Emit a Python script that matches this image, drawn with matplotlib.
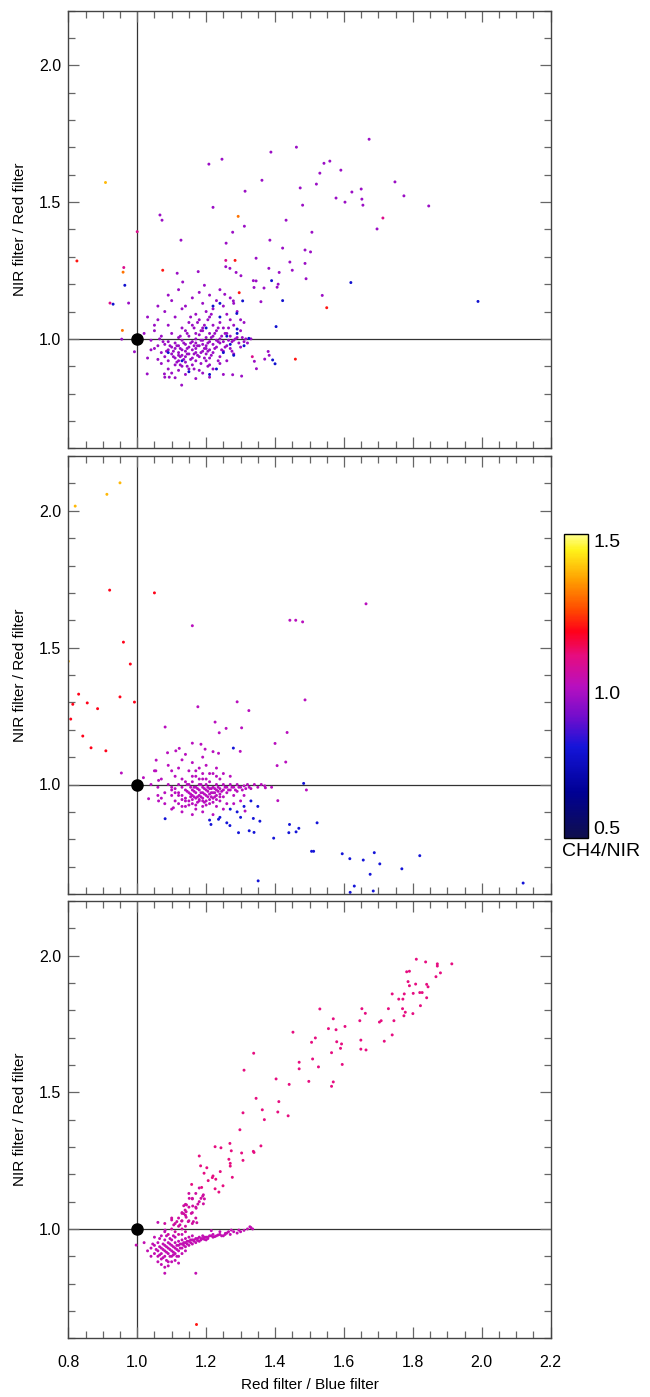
import numpy as np
import matplotlib
matplotlib.use("Agg")
import matplotlib.pyplot as plt
from matplotlib.colors import LinearSegmentedColormap, Normalize
from matplotlib.cm import ScalarMappable
from matplotlib.ticker import MultipleLocator

plt.rcParams['font.family'] = ['Liberation Sans', 'DejaVu Sans']

# ---------------- data ----------------
x_ticks = [0.8, 1.0, 1.2, 1.4, 1.6, 1.8, 2.0, 2.2]
y_ticks = [1.0, 1.5, 2.0]
cbar_ticks = [0.5, 1.0, 1.5]
x_label = "Red filter / Blue filter"
y_label = "NIR filter / Red filter"
cbar_label = "CH4/NIR"
ref_point = (1.0, 1.0)

# Panel 1 ------------------------------------------------------------
p1_purple = [
    (1.10,1.14),(1.16,1.15),(1.19,1.13),(1.23,1.14),(1.25,1.12),(1.28,1.13),
    (1.08,1.10),(1.13,1.11),(1.17,1.09),(1.20,1.10),(1.22,1.11),(1.26,1.09),(1.29,1.10),
    (1.06,1.07),(1.11,1.08),(1.15,1.06),(1.18,1.07),(1.21,1.08),(1.24,1.06),(1.27,1.07),(1.31,1.06),
    (1.09,1.05),(1.13,1.04),(1.16,1.05),(1.19,1.04),(1.22,1.05),(1.25,1.04),(1.28,1.05),
    (1.05,1.03),(1.10,1.02),(1.14,1.03),(1.17,1.02),(1.19,1.03),(1.21,1.02),(1.23,1.03),(1.26,1.02),(1.30,1.03),
    (1.07,1.01),(1.12,1.005),(1.15,1.01),(1.17,1.00),(1.18,1.015),(1.20,1.005),(1.22,1.01),(1.24,1.00),
    (1.27,1.01),(1.29,1.005),(1.33,1.00),
    (1.04,0.995),(1.09,0.99),(1.13,0.995),(1.16,0.99),(1.19,0.995),(1.21,0.99),(1.23,0.995),(1.25,0.99),
    (1.28,0.995),(1.31,0.99),
    (1.08,0.98),(1.11,0.985),(1.14,0.98),(1.17,0.985),(1.19,0.98),(1.20,0.975),(1.22,0.98),(1.24,0.985),(1.26,0.975),
    (1.06,0.975),(1.10,0.97),(1.12,0.975),(1.15,0.97),(1.17,0.965),(1.18,0.975),(1.20,0.965),(1.23,0.97),
    (1.27,0.965),(1.30,0.97),
    (1.05,0.965),(1.09,0.96),(1.11,0.965),(1.13,0.96),(1.14,0.955),(1.16,0.96),(1.19,0.955),(1.21,0.96),(1.25,0.955),
    (1.07,0.95),(1.10,0.945),(1.12,0.95),(1.13,0.94),(1.15,0.945),(1.17,0.95),(1.20,0.945),(1.22,0.95),(1.28,0.945),
    (1.08,0.935),(1.11,0.93),(1.12,0.94),(1.14,0.935),(1.16,0.93),(1.18,0.935),(1.21,0.93),(1.24,0.935),
    (1.06,0.925),(1.09,0.92),(1.12,0.92),(1.14,0.915),(1.17,0.92),(1.20,0.92),(1.26,0.92),
    (1.07,0.91),(1.11,0.905),(1.13,0.90),(1.16,0.905),(1.21,0.905),(1.24,0.91),
    (1.09,0.89),(1.12,0.885),(1.15,0.89),(1.18,0.885),(1.22,0.89),
    (1.10,0.875),(1.14,0.87),(1.19,0.875),(1.25,0.87),(1.08,0.86),(1.17,0.855),(1.21,0.86),
    (1.03,0.93),(1.04,0.96),(1.02,1.02),(1.05,1.05),(1.03,1.08),(1.06,1.12),(1.09,1.16),(1.12,1.18),
    (1.14,1.12),(1.18,1.17),(1.21,1.16),(1.24,1.18),
    (1.105,0.955),(1.115,0.975),(1.125,0.965),(1.135,0.985),(1.145,0.965),(1.155,0.985),(1.165,0.945),
    (1.175,0.975),(1.185,0.995),(1.195,0.965),(1.205,0.985),(1.215,1.005),(1.225,0.965),(1.235,0.99),
    (1.245,1.01),(1.255,0.97),(1.265,0.995),(1.105,0.935),(1.115,0.915),(1.125,0.935),(1.135,0.925),
    (1.145,0.945),(1.155,0.925),(1.165,0.975),(1.175,0.94),(1.185,0.95),(1.195,0.93),(1.205,0.955),
    (1.215,0.94),(1.225,1.02),(1.235,1.04),(1.185,1.03),(1.165,1.04),(1.145,1.02),(1.125,1.01),(1.195,1.05),
    (1.175,1.06),(1.155,1.08),(1.205,1.07),(1.215,1.09),(1.095,0.975),(1.085,0.955),(1.075,0.99),(1.065,1.0),
    (1.125,0.905),(1.145,0.9),(1.165,0.89),(1.185,0.91),(1.205,0.9),(1.235,0.92),(1.245,0.96),(1.255,1.02),
    (1.265,1.04),(1.275,0.99),(1.285,1.0),(1.295,0.985),(1.305,1.005),(1.315,1.0),(1.32,0.985),(1.275,0.955),
    (1.116,1.240),(1.177,1.246),(1.132,1.208),(1.195,1.196),(1.257,1.264),(1.287,1.243),(1.301,1.231),
    (1.254,1.163),(1.27,1.15),(1.279,1.139),(1.30,1.07),(1.337,1.213),(1.345,1.212),(1.339,1.188),
    (1.368,1.186),(1.409,1.200),(1.406,1.189),(1.382,1.258),(1.412,1.243),(1.450,1.251),(1.487,1.276),
    (1.49,1.22),(1.503,1.318),(1.359,1.136),(1.537,1.159),(1.383,0.94),(1.370,0.926),(1.340,0.918),
    (1.346,0.891),(1.380,0.954),(1.303,0.864),(1.277,0.869),(1.129,0.831),(1.110,0.858),(1.093,0.860),
    (1.079,0.872),(1.029,0.872),(0.975,1.131),(0.955,0.999),(0.992,0.953),
    (1.066,1.453),(1.072,1.434),(1.127,1.361),(1.208,1.639),(1.246,1.657),(1.220,1.481),(1.313,1.540),
    (1.362,1.580),(1.388,1.683),(1.462,1.701),(1.520,1.566),(1.530,1.606),(1.542,1.642),(1.591,1.617),
    (1.577,1.515),(1.603,1.500),(1.623,1.537),(1.650,1.548),(1.652,1.511),(1.655,1.489),(1.673,1.730),
    (1.559,1.650),(1.696,1.402),(1.748,1.574),(1.774,1.523),(1.846,1.486),(1.473,1.552),(1.432,1.434),
    (1.480,1.489),(1.258,1.350),(1.345,1.295),(1.385,1.361),(1.422,1.332),(1.311,1.412),(1.277,1.390),
    (1.443,1.281),(1.487,1.325),(1.507,1.390),(1.269,1.258),
]
p1_purple_c = 0.96
p1_blue = [
    (1.13,0.92),(1.21,0.87),(1.23,0.89),(1.25,0.95),(1.27,0.98),(1.20,1.04),(1.24,1.08),(1.26,1.01),
    (1.29,1.02),(1.28,0.94),(1.15,0.88),(1.09,0.95),(1.31,0.975),(1.22,1.12),
    (0.964,1.196),(0.930,1.127),(1.306,1.139),(1.240,1.130),(1.289,1.093),(1.290,1.036),(1.324,1.002),
    (1.390,1.213),(1.422,1.140),(1.403,1.045),(1.620,1.206),(1.393,0.923),(1.400,0.909),(1.989,1.137),
]
p1_blue_c = 0.78
p1_magenta = [(0.961,1.261),(1.0,1.392),(1.257,1.287),(1.334,0.935),(1.713,1.442),(0.921,1.131)]
p1_magenta_c = 1.08
p1_red = [(0.825,1.285),(1.074,1.251),(1.284,1.287),(1.296,1.169),(1.550,1.114),(1.459,0.926)]
p1_red_c = 1.2
p1_orange = [(0.959,1.244),(0.957,1.031),(1.293,1.448)]
p1_orange_c = 1.3
p1_yellow = [(0.906,1.574)]
p1_yellow_c = 1.38

# Panel 2 ------------------------------------------------------------
p2_purple = [
    (1.05,1.05),(1.07,1.02),(1.06,0.99),(1.08,0.97),(1.07,0.95),(1.09,1.00),(1.10,0.98),(1.10,0.96),(1.11,1.03),
    (1.11,0.94),(1.12,1.06),(1.12,1.00),(1.12,0.97),(1.12,0.93),(1.13,0.99),(1.13,0.96),(1.13,1.02),(1.14,0.98),
    (1.14,0.95),(1.14,0.92),(1.15,1.05),(1.15,1.00),(1.15,0.97),(1.15,0.94),(1.16,1.01),(1.16,0.98),(1.16,0.96),
    (1.16,0.93),(1.17,1.03),(1.17,0.99),(1.17,0.97),(1.17,0.95),(1.17,0.91),(1.18,1.00),(1.18,0.98),(1.18,0.96),
    (1.18,0.94),(1.19,1.02),(1.19,0.99),(1.19,0.97),(1.19,0.95),(1.19,0.92),(1.20,1.00),(1.20,0.98),(1.20,0.96),
    (1.20,0.94),(1.21,1.01),(1.21,0.985),(1.21,0.965),(1.21,0.93),(1.22,1.04),(1.22,0.99),(1.22,0.97),(1.22,0.95),
    (1.23,1.00),(1.23,0.98),(1.23,0.96),(1.23,0.92),(1.24,1.02),(1.24,0.985),(1.24,0.965),(1.24,0.94),(1.25,1.00),
    (1.25,0.98),(1.25,0.955),(1.26,0.99),(1.26,0.97),(1.26,0.93),(1.27,1.00),(1.27,0.98),(1.28,0.99),(1.28,0.96),
    (1.29,1.00),(1.29,0.975),(1.30,0.99),(1.31,0.995),(1.31,0.96),(1.32,1.00),(1.33,0.985),(1.34,1.00),(1.35,0.99),
    (1.36,1.00),(1.37,0.995),(1.39,0.99),(1.09,1.07),(1.13,1.09),(1.16,1.08),(1.18,1.06),(1.20,1.07),(1.23,1.06),
    (1.25,1.04),(1.27,1.03),(1.14,1.11),(1.19,1.10),(1.22,1.12),(1.10,1.05),(1.08,0.93),(1.10,0.91),(1.13,0.90),
    (1.16,0.89),(1.19,0.90),(1.22,0.89),(1.25,0.91),(1.28,0.93),(1.30,0.94),(1.06,0.96),(1.04,1.00),(1.11,0.985),
    (1.145,1.0),(1.165,0.975),(1.185,0.955),(1.205,0.975),(1.225,0.985),(1.155,0.955),(1.175,0.935),(1.195,0.935),
    (1.215,0.955),(1.235,0.975),
    (1.145,0.975),(1.155,0.99),(1.165,0.955),(1.175,0.985),(1.185,0.97),(1.195,0.985),(1.205,0.955),(1.215,0.97),
    (1.225,0.955),(1.235,0.99),(1.245,0.975),(1.255,0.99),(1.265,0.98),(1.275,0.99),(1.285,0.98),(1.295,0.99),
    (1.305,0.98),(1.315,0.985),(1.325,0.99),(1.14,0.94),(1.15,0.925),(1.16,0.945),(1.17,0.925),(1.18,0.945),
    (1.19,0.94),(1.20,0.925),(1.21,0.945),(1.22,0.935),(1.23,0.945),(1.24,0.955),(1.13,0.945),(1.12,0.96),
    (1.11,0.97),(1.10,0.99),(1.14,1.01),(1.16,1.03),(1.18,1.02),(1.20,1.02),(1.21,1.04),(1.23,1.03),(1.17,1.05),
    (1.19,1.04),(1.155,0.965),(1.175,0.955),(1.195,0.965),(1.215,0.985),(1.165,0.99),(1.185,1.0),(1.205,0.99),
    (1.225,0.97),
    (1.081,1.210),(1.176,1.284),(1.226,1.228),(1.238,1.189),(1.258,1.205),(1.303,1.207),(1.290,1.302),(1.324,1.270),
    (1.487,1.309),(1.400,1.150),(1.435,1.190),(1.406,1.069),(1.431,1.082),(1.299,1.121),(1.236,1.114),(1.197,1.129),
    (1.185,1.147),(1.160,1.151),(1.122,1.132),(1.112,1.123),(1.088,1.116),(1.055,1.089),(1.054,1.050),(1.062,1.015),
    (1.033,0.948),(1.062,0.94),(1.105,0.915),(1.130,0.920),(1.491,0.980),(1.408,0.941),(1.372,0.988),(1.313,0.903),
    (0.954,1.042),(1.018,1.025),(1.16,1.58),(1.443,1.60),(1.46,1.60),(1.48,1.594),(1.664,1.66),
]
p2_purple_c = 1.0
p2_blue = [
    (1.27,0.91),(1.29,0.90),(1.31,0.92),(1.33,0.94),(1.24,0.88),(1.21,0.87),(1.30,0.88),(1.26,0.86),(1.35,0.92),
    (1.279,1.133),(1.081,0.875),(1.483,1.004),(1.337,0.876),(1.356,0.866),(1.339,0.825),(1.325,0.831),(1.294,0.824),
    (1.269,0.850),(1.236,0.873),(1.214,0.854),(1.396,0.804),(1.442,0.854),(1.440,0.824),(1.461,0.827),(1.469,0.840),
    (1.522,0.860),(1.506,0.756),(1.512,0.756),(1.595,0.747),(1.617,0.729),(1.656,0.724),(1.688,0.751),(1.704,0.710),
    (1.676,0.672),(1.630,0.629),(1.618,0.606),(1.685,0.611),(1.768,0.692),(1.351,0.648),(1.82,0.74),(2.12,0.64),
]
p2_blue_c = 0.8
p2_red = [
    (0.807,1.239),(0.813,1.293),(0.855,1.298),(0.885,1.277),(0.842,1.177),(0.866,1.134),(0.909,1.123),(0.992,1.301),
    (0.83,1.33),(0.92,1.71),(0.96,1.52),(1.05,1.70),(0.98,1.44),(0.95,1.32),
]
p2_red_c = 1.18
p2_yellow = [(0.820,2.017),(0.912,2.060),(0.950,2.102),(0.80,1.45)]
p2_yellow_c = 1.38

# Panel 3 ------------------------------------------------------------
p3_band = [
    (1.04,0.93),(1.05,0.91),(1.05,0.94),(1.06,0.92),(1.06,0.90),(1.06,0.95),(1.07,0.93),(1.07,0.91),(1.07,0.89),
    (1.08,0.94),(1.08,0.92),(1.08,0.90),(1.08,0.96),(1.09,0.93),(1.09,0.91),(1.09,0.95),(1.09,0.88),(1.10,0.94),
    (1.10,0.92),(1.10,0.90),(1.10,0.96),(1.11,0.93),(1.11,0.95),(1.11,0.91),(1.11,0.97),(1.12,0.94),(1.12,0.92),
    (1.12,0.955),(1.12,0.90),(1.13,0.945),(1.13,0.93),(1.13,0.96),(1.13,0.98),(1.14,0.95),(1.14,0.935),(1.14,0.965),
    (1.15,0.955),(1.15,0.94),(1.15,0.97),(1.16,0.96),(1.16,0.945),(1.16,0.975),(1.17,0.965),(1.17,0.95),(1.18,0.97),
    (1.18,0.955),(1.19,0.965),(1.19,0.975),(1.20,0.97),(1.20,0.96),(1.21,0.975),(1.22,0.97),(1.22,0.98),(1.23,0.975),
    (1.24,0.98),(1.25,0.975),(1.26,0.985),(1.27,0.98),(1.28,0.99),(1.29,0.985),(1.30,0.99),(1.31,0.995),(1.32,1.0),
    (1.33,1.005),(1.065,0.935),(1.075,0.925),(1.085,0.935),(1.095,0.925),(1.105,0.935),(1.115,0.94),(1.125,0.945),
    (1.135,0.95),(1.145,0.955),(1.155,0.96),(1.165,0.96),(1.175,0.965),(1.185,0.965),(1.195,0.97),(1.205,0.97),
    (1.215,0.975),(1.07,0.87),(1.08,0.86),(1.10,0.88),(1.06,0.88),(1.09,0.865),(1.11,0.885),(1.12,0.875),(1.13,0.91),
    (1.14,0.92),(1.04,0.90),(1.03,0.92),(1.02,0.95),(1.05,0.97),(1.07,0.975),(1.08,0.99),
    (1.075,0.945),(1.085,0.915),(1.095,0.945),(1.105,0.915),(1.115,0.925),(1.125,0.93),(1.135,0.94),(1.145,0.945),
    (1.155,0.95),(1.165,0.955),(1.175,0.958),(1.185,0.96),(1.195,0.962),(1.205,0.965),(1.225,0.972),(1.235,0.978),
    (1.245,0.975),(1.255,0.98),(1.065,0.905),(1.075,0.895),(1.085,0.885),(1.095,0.9),(1.105,0.905),(1.115,0.9),
    (1.055,0.925),(1.045,0.945),(1.065,0.965),(1.095,0.965),(1.105,0.975),(1.085,0.975),
    (1.215,0.994),(1.256,0.984),(1.273,0.996),(1.295,0.996),(1.327,1.008),(1.335,1.000),(1.24,0.99),(1.265,0.99),
    (1.081,0.996),(1.060,1.024),(0.997,0.941),(1.08,0.838),(1.17,0.838),
]
p3_band_c = 1.02
p3_lobe = [
    (1.09,0.98),(1.10,1.00),(1.11,0.99),(1.12,1.01),(1.11,1.02),(1.13,1.00),(1.12,1.04),(1.13,1.03),(1.14,1.01),
    (1.13,1.06),(1.14,1.05),(1.15,1.03),(1.15,1.08),(1.14,1.09),(1.16,1.06),(1.16,1.11),(1.17,1.08),(1.15,1.13),
    (1.17,1.13),(1.18,1.10),(1.18,1.15),(1.19,1.12),(1.16,1.02),(1.17,1.04),(1.12,0.98),(1.14,0.99),(1.10,1.04),
    (1.08,1.02),(1.142,1.043),(1.148,1.027),(1.129,1.029),(1.115,1.027),(1.106,1.015),(1.100,1.033),(1.163,1.027),
    (1.173,1.023),(1.157,1.057),(1.124,1.015),(1.130,1.057),(1.135,1.056),(1.139,1.069),(1.142,1.063),(1.143,1.088),
    (1.135,1.085),(1.160,1.112),(1.151,1.112),(1.161,1.084),(1.171,1.076),(1.176,1.091),(1.192,1.092),(1.185,1.112),
    (1.195,1.110),(1.192,1.125),
]
p3_lobe_c = 1.05
p3_diag = [
    (1.810,1.987),(1.837,1.977),(1.871,1.970),(1.871,1.962),(1.913,1.970),(1.880,1.937),(1.867,1.923),(1.782,1.941),
    (1.790,1.943),(1.786,1.905),(1.808,1.896),(1.79,1.89),(1.840,1.895),(1.844,1.886),(1.827,1.865),(1.82,1.865),
    (1.801,1.862),(1.775,1.860),(1.759,1.841),(1.771,1.841),(1.740,1.860),(1.840,1.846),(1.822,1.817),(1.800,1.788),
    (1.778,1.793),(1.774,1.780),(1.770,1.806),(1.729,1.806),(1.745,1.762),(1.708,1.762),(1.703,1.757),(1.740,1.710),
    (1.717,1.687),(1.652,1.806),(1.662,1.789),(1.646,1.762),(1.649,1.691),(1.664,1.655),(1.649,1.658),(1.530,1.805),
    (1.569,1.769),(1.555,1.733),(1.577,1.729),(1.603,1.741),(1.579,1.685),(1.593,1.677),(1.590,1.661),(1.564,1.645),
    (1.595,1.602),(1.517,1.699),(1.506,1.683),(1.509,1.622),(1.526,1.593),(1.452,1.720),(1.470,1.610),(1.470,1.586),
    (1.498,1.540),(1.564,1.522),(1.569,1.538),(1.441,1.529),(1.403,1.549),(1.411,1.466),(1.408,1.428),(1.438,1.414),
    (1.338,1.643),(1.310,1.581),(1.345,1.478),(1.363,1.436),(1.369,1.400),(1.307,1.425),(1.298,1.363),(1.359,1.304),
    (1.337,1.284),(1.339,1.280),(1.307,1.251),(1.303,1.278),(1.269,1.313),(1.273,1.286),(1.266,1.255),(1.270,1.240),
    (1.27,1.23),(1.276,1.189),(1.226,1.301),(1.243,1.297),(1.180,1.267),(1.184,1.231),(1.202,1.224),(1.194,1.204),
    (1.220,1.194),(1.228,1.182),(1.241,1.210),(1.249,1.158),(1.226,1.147),(1.237,1.135),(1.218,1.188),(1.206,1.177),
    (1.187,1.152),(1.158,1.163),
]
p3_diag_c = 1.1
p3_red = [(1.17,0.652)]
p3_red_c = 1.2

panels = [
    [(p1_purple, p1_purple_c), (p1_blue, p1_blue_c), (p1_magenta, p1_magenta_c),
     (p1_red, p1_red_c), (p1_orange, p1_orange_c), (p1_yellow, p1_yellow_c)],
    [(p2_purple, p2_purple_c), (p2_blue, p2_blue_c), (p2_red, p2_red_c), (p2_yellow, p2_yellow_c)],
    [(p3_band, p3_band_c), (p3_lobe, p3_lobe_c), (p3_diag, p3_diag_c), (p3_red, p3_red_c)],
]

# ---------------- style ----------------
cmap = LinearSegmentedColormap.from_list("ch4", [
    (0.00, (0.06, 0.06, 0.30)),
    (0.15, (0.00, 0.00, 0.58)),
    (0.30, (0.08, 0.08, 0.85)),
    (0.40, (0.45, 0.05, 0.80)),
    (0.50, (0.72, 0.06, 0.75)),
    (0.60, (0.90, 0.05, 0.50)),
    (0.68, (1.00, 0.00, 0.10)),
    (0.75, (1.00, 0.28, 0.00)),
    (0.85, (1.00, 0.62, 0.00)),
    (0.95, (1.00, 0.95, 0.10)),
    (1.00, (1.00, 1.00, 0.55)),
])
norm = Normalize(vmin=cbar_ticks[0], vmax=cbar_ticks[-1])
frame_col = '#444444'

fig = plt.figure(figsize=(6.5, 13.97), dpi=100)
W, H = 650.0, 1397.0
boxes = [(10.7, 448.3), (456.0, 894.0), (901.0, 1338.3)]
left, right = 68.3, 550.7

for i, (top, bot) in enumerate(boxes):
    ax = fig.add_axes([left / W, 1 - bot / H, (right - left) / W, (bot - top) / H])
    ax.set_xlim(x_ticks[0], x_ticks[-1])
    ax.set_ylim(0.6, 2.2)
    ax.axvline(ref_point[0], color='#333333', lw=0.9, zorder=1)
    ax.axhline(ref_point[1], color='#333333', lw=0.9, zorder=1)
    for pts, cval in panels[i]:
        xs = [p[0] for p in pts]
        ys = [p[1] for p in pts]
        ax.scatter(xs, ys, c=[cval] * len(pts), cmap=cmap, norm=norm, s=4.5,
                   marker='o', linewidths=0, zorder=2)
    ax.plot([ref_point[0]], [ref_point[1]], 'o', color='black', ms=8, zorder=3)
    ax.set_xticks(x_ticks)
    ax.xaxis.set_minor_locator(MultipleLocator(0.05))
    ax.set_yticks(y_ticks)
    ax.yaxis.set_minor_locator(MultipleLocator(0.1))
    ax.tick_params(which='both', direction='in', top=True, right=True, color='#666666', width=0.9)
    ax.tick_params(which='major', length=8)
    ax.tick_params(which='minor', length=5)
    ax.tick_params(axis='y', labelsize=11.5, pad=5)
    ax.tick_params(axis='x', labelsize=11.5, pad=12)
    for sp in ax.spines.values():
        sp.set_color(frame_col)
        sp.set_linewidth(1.0)
    ax.set_ylabel(y_label, fontsize=11)
    ax.yaxis.set_label_coords(-0.085, 0.5)
    if i < 2:
        ax.tick_params(axis='x', labelbottom=False)
    else:
        ax.set_xlabel(x_label, fontsize=11)
        ax.xaxis.set_label_coords(0.5, -0.09)

# colorbar
cax = fig.add_axes([564.3 / W, 1 - 838.3 / H, 23.4 / W, 304.0 / H])
sm = ScalarMappable(norm=norm, cmap=cmap)
cb = fig.colorbar(sm, cax=cax)
cb.set_ticks([])
cb.outline.set_edgecolor('black')
cb.outline.set_linewidth(1.0)
for t in cbar_ticks:
    va = 'bottom' if t == cbar_ticks[0] else 'top'
    cax.text(1.25, t, f"{t:.1f}", transform=cax.get_yaxis_transform(), va=va, ha='left', fontsize=14)
cax.text(-0.1, -0.015, cbar_label, transform=cax.transAxes, va='top', ha='left', fontsize=14)

fig.savefig("out.png", dpi=100)
